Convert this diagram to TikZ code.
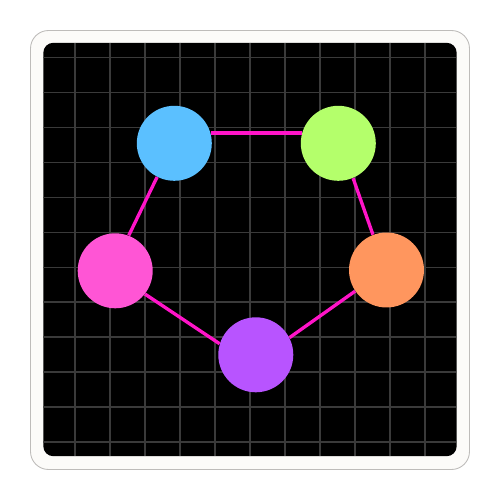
\documentclass[tikz,border=0pt]{standalone}
\usepackage{tikz}
\definecolor{paper}{RGB}{252,251,249}
\definecolor{rim}{RGB}{190,188,186}
\definecolor{gridgray}{RGB}{58,58,58}
\definecolor{linkpink}{RGB}{255,20,200}
\definecolor{dotsky}{RGB}{91,192,255}
\definecolor{dotlime}{RGB}{180,255,107}
\definecolor{dotcoral}{RGB}{255,150,94}
\definecolor{dotviolet}{RGB}{184,84,255}
\definecolor{dotrose}{RGB}{255,85,213}

\begin{document}
\begin{tikzpicture}[
  x=0.02cm, y=-0.02cm,
  frame/.style={fill=paper, draw=rim, line width=0.5pt, rounded corners=0.36cm},
  board/.style={fill=black, rounded corners=0.2cm},
  gridline/.style={draw=gridgray, line width=0.7pt},
  dot/.style={circle, minimum size=1.5cm, inner sep=0pt},
  link/.style={draw=linkpink, line width=1.9pt}
]
\useasboundingbox (0,0) rectangle (500,500);
\path[frame] (30.5,30.5) rectangle (469.5,469.5);
\path[board] (43.3,42.8) rectangle (456.7,456.2);
\begin{scope}
  \clip[rounded corners=0.2cm] (43.3,42.8) rectangle (456.7,456.2);
  \foreach \i in {0,...,10} \draw[gridline] (75+35*\i,42.8) -- (75+35*\i,456.2);
  \foreach \i in {0,...,11} \draw[gridline] (43.3,57.3+34.97*\i) -- (456.7,57.3+34.97*\i);
\end{scope}

\node[dot, fill=dotsky] (sky) at (174.3,143.3) {};
\node[dot, fill=dotlime] (lime) at (338.3,143.3) {};
\node[dot, fill=dotcoral] (coral) at (386.5,270) {};
\node[dot, fill=dotviolet] (violet) at (255.8,354.8) {};
\node[dot, fill=dotrose] (rose) at (115.2,270.8) {};

\draw[link] (sky.16) -- (lime.164);
\draw[link] (lime.293) -- (coral.111);
\draw[link] (coral.214) -- (violet.27);
\draw[link] (violet.163) -- (rose.322);
\draw[link] (rose.69) -- (sky.243);
\end{tikzpicture}
\end{document}
